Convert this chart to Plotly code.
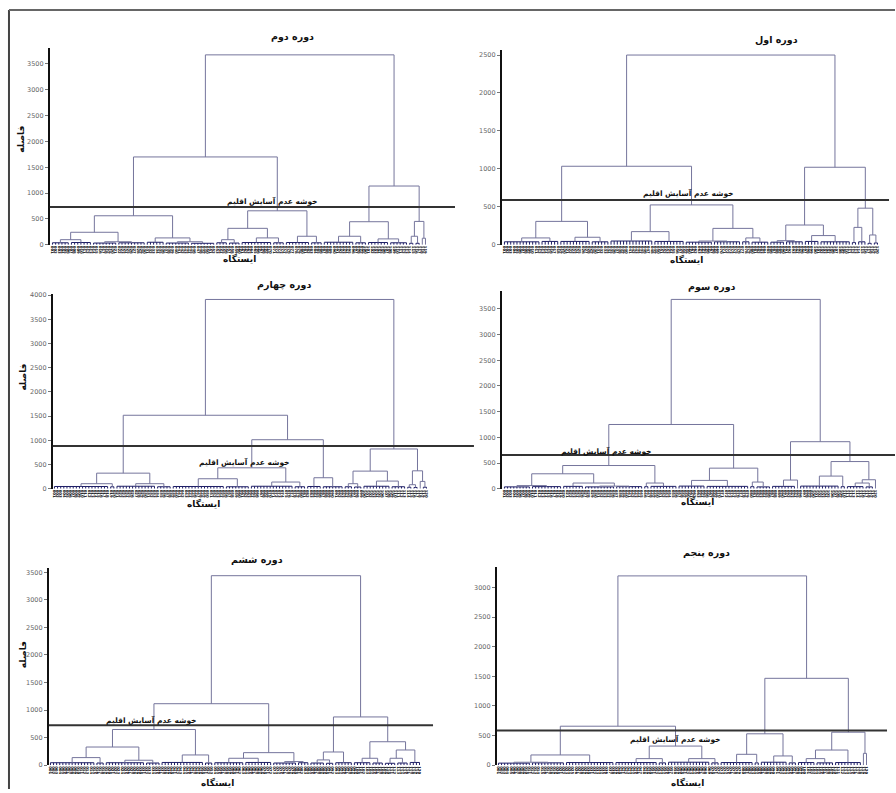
import plotly.graph_objects as go

W, H = 896, 793

# ---------------- data ----------------
# Dendrogram trees: [height, left, right]; leaf groups: [height, n_stations]
TITLES = ["دوره دوم", "دوره اول", "دوره چهارم", "دوره سوم", "دوره ششم", "دوره پنجم"]

T_DOVOM = [3672,
  [1699,
    [562,
      [243, [100, [40, 6], [45, 7]], [60, [35, 8], [40, 9]]],
      [134, [50, 6], [60, [35, 8], [30, 8]]]],
    [658,
      [319, [100, [40, 4], [35, 4]], [134, [45, 10], [40, 4]]],
      [166, [45, 8], [40, 4]]]],
  [1137,
    [447, [166, [50, 10], [40, 4]], [115, [45, 7], [40, 6]]],
    [453, [166, [30, 2], [30, 2]], [128, [20, 1], [20, 1]]]]]

T_AVAL = [2500,
  [1035,
    [309, [91, [40, 12], [45, 6]], [100, [45, 10], [40, 6]]],
    [526, [174, [50, 14], [45, 10]], [217, [50, [35, 9], [40, 9]], [91, [40, 3], [35, 6]]]]],
  [1022,
    [261, [55, [35, 5], [40, 6]], [122, [45, 5], [40, 10]]],
    [483, [230, [30, 2], [40, 3]], [130, [20, 2], [25, 2]]]]]

T_CHAHAROM = [3912,
  [1518,
    [321, [103, [45, 18], [40, 2]], [103, [50, 13], [40, 5]]],
    [1012,
      [431, [205, [45, 17], [40, 8]], [137, [50, 14], [40, 4]]],
      [226, [45, 5], [40, 7]]]],
  [821,
    [363, [103, [40, 3], [35, 3]], [157, [50, 9], [40, 5]]],
    [369, [82, [30, 2], [25, 2]], [150, [20, 1], [30, 2]]]]]

T_SEVOM = [3686,
  [1250,
    [451,
      [290, [60, [35, 9], [40, 10]], [110, [45, 7], [50, [35, 10], [40, 9]]]],
      [110, [40, 2], [45, 9]]],
    [400, [161, [50, 9], [45, 14]], [129, [40, 2], [35, 5]]]],
  [915,
    [168, [45, 8], [40, 1]],
    [528, [245, [50, 13], [40, 2]], [174, [110, [40, 6], [35, 3]], [40, 1]]]]]

T_SHESHOM = [3439,
  [1116,
    [648,
      [330, [138, [45, 15], [40, 3]], [90, [45, 13], [40, 5]]],
      [186, [50, 14], [40, 3]]],
    [228, [126, [45, 10], [50, 9]], [66, [40, 8], [45, 4]]]],
  [876,
    [240, [96, [40, 5], [35, 3]], [45, 6]],
    [426, [126, [45, 6], [40, 4]], [276, [126, [35, 4], [40, 4]], [50, 4]]]]]

T_PANJOM = [3194,
  [658,
    [173, [50, [35, 11], [40, 11]], [45, 16]],
    [323, [111, [45, 14], [40, 3]], [111, [50, 14], [40, 3]]]],
  [1466,
    [530, [184, [45, 11], [40, 2]], [156, [50, 9], [40, 3]]],
    [557, [256, [111, [45, 6], [40, 6]], [45, 9]], [200, [20, 1], [25, 1]]]]]

TREES = [T_DOVOM, T_AVAL, T_CHAHAROM, T_SEVOM, T_SHESHOM, T_PANJOM]
THRESHOLDS = [730, 590, 880, 656, 726, 587]
CLUSTER_LABEL = "خوشه عدم آسایش اقلیم"
X_TITLE = "ایستگاه"
Y_TITLE = "فاصله"

# ---------------- layout geometry (pixels) ----------------
GEOM = [
    dict(ax=49, ll=50, lr=427, y0=244, ytop=45, ppu=26.1, thr_end=455,
         title=(292, 34), label=(272, 200), xt=(239, 258), yt=(20, 137)),
    dict(ax=502, ll=503, lr=880, y0=244, ytop=47, ppu=38.3, thr_end=890,
         title=(777, 37), label=(689, 192), xt=(687, 259), yt=None),
    dict(ax=52, ll=52, lr=428, y0=490, ytop=294, ppu=24.4, thr_end=474,
         title=(284, 285), label=(244, 463), xt=(203, 505), yt=(22, 377)),
    dict(ax=502, ll=503, lr=878, y0=490, ytop=291, ppu=25.9, thr_end=896,
         title=(713, 287), label=(606, 452), xt=(698, 503), yt=None),
    dict(ax=48, ll=48, lr=421, y0=769, ytop=570, ppu=27.8, thr_end=433,
         title=(257, 562), label=(150, 723), xt=(217, 786), yt=(22, 657)),
    dict(ax=497, ll=497, lr=869, y0=769, ytop=569, ppu=29.9, thr_end=888,
         title=(707, 555), label=(676, 743), xt=(688, 786), yt=None),
]

LINK_COLOR = "#75759c"
LEAF_COLOR = "#1e1e66"
FONT = "DejaVu Sans"


def layout_tree(node, start, up, low):
    """Return (center, height, next_start); append segments."""
    if len(node) == 2 and isinstance(node[1], int):
        h, n = node
        if n == 1:
            return float(start), 0.0, start + 1
        for i in range(start, start + n):
            low[0] += [i, i, None]
            low[1] += [0, h, None]
        low[0] += [start, start + n - 1, None]
        low[1] += [h, h, None]
        return start + (n - 1) / 2.0, float(h), start + n
    h, left, right = node
    lc, lh, s = layout_tree(left, start, up, low)
    rc, rh, s2 = layout_tree(right, s, up, low)
    up[0] += [lc, lc, rc, rc, None]
    up[1] += [lh, h, h, rh, None]
    return (lc + rc) / 2.0, float(h), s2


def px(x):
    return x / W


def py(y):
    return 1 - y / H


def note(text, pos, size, angle=0):
    return dict(text=f"<b>{text}</b>", x=px(pos[0]), y=py(pos[1]), xref="paper", yref="paper",
                xanchor="center", yanchor="middle", showarrow=False, textangle=angle,
                font=dict(size=size, color="#111", family=FONT))


fig = go.Figure()
shapes = []
annotations = []

for k, (tree, thr, g, title) in enumerate(zip(TREES, THRESHOLDS, GEOM, TITLES)):
    idx = k + 1
    xa = "x" if idx == 1 else f"x{idx}"
    ya = "y" if idx == 1 else f"y{idx}"
    up = [[], []]
    low = [[], []]
    _, _, N = layout_tree(tree, 0, up, low)

    fig.add_trace(go.Scatter(x=low[0], y=low[1], mode="lines", xaxis=xa, yaxis=ya,
                             line=dict(color=LEAF_COLOR, width=1), hoverinfo="skip",
                             showlegend=False))
    fig.add_trace(go.Scatter(x=up[0], y=up[1], mode="lines", xaxis=xa, yaxis=ya,
                             line=dict(color=LINK_COLOR, width=1), hoverinfo="skip",
                             showlegend=False))

    w = (g["lr"] - g["ll"]) / N
    pad = (g["ll"] - g["ax"]) / w
    yr_top = (g["y0"] - g["ytop"]) / g["ppu"] * 500
    stations = [str(i + 1).zfill(3) for i in range(N)]

    xkey = "xaxis" if idx == 1 else f"xaxis{idx}"
    ykey = "yaxis" if idx == 1 else f"yaxis{idx}"
    fig.layout[xkey] = dict(
        domain=[px(g["ax"]), px(g["lr"])], anchor=ya,
        range=[-0.5 - pad, N - 0.5], showgrid=False, zeroline=False, showline=False,
        tickmode="array", tickvals=list(range(N)), ticktext=stations, tickangle=90,
        tickfont=dict(size=3.8, color="#000", family=FONT, weight="bold"), ticks="",
        fixedrange=True)
    fig.layout[ykey] = dict(
        domain=[py(g["y0"]), py(g["ytop"])], anchor=xa,
        range=[0, yr_top], showgrid=False, zeroline=False, showline=True,
        linecolor="#111", linewidth=2, ticks="outside", ticklen=3, tickcolor="#777",
        tickmode="linear", tick0=0, dtick=500,
        tickfont=dict(size=6.5, color="#666", family=FONT), fixedrange=True)

    # threshold line
    shapes.append(dict(type="line", xref="paper", yref=ya,
                       x0=px(g["ax"]), x1=px(g["thr_end"]), y0=thr, y1=thr,
                       line=dict(color="#333", width=2)))

    annotations.append(note(title, g["title"], 9.5))
    annotations.append(note(CLUSTER_LABEL, g["label"], 7.5))
    annotations.append(note(X_TITLE, g["xt"], 9))
    if g["yt"] is not None:
        annotations.append(note(Y_TITLE, g["yt"], 9, -90))

# page frame (scanned figure border)
shapes.append(dict(type="line", xref="paper", yref="paper", x0=px(8), x1=px(8),
                   y0=py(7), y1=0, line=dict(color="#444", width=2)))
shapes.append(dict(type="line", xref="paper", yref="paper", x0=px(8), x1=1,
                   y0=py(7), y1=py(7), line=dict(color="#666", width=2)))

fig.update_layout(width=W, height=H, margin=dict(l=0, r=0, t=0, b=0),
                  paper_bgcolor="white", plot_bgcolor="white",
                  shapes=shapes, annotations=annotations, showlegend=False)

fig.write_html("out.html", config={"displayModeBar": False},
               post_script="document.body.style.margin='0';")
